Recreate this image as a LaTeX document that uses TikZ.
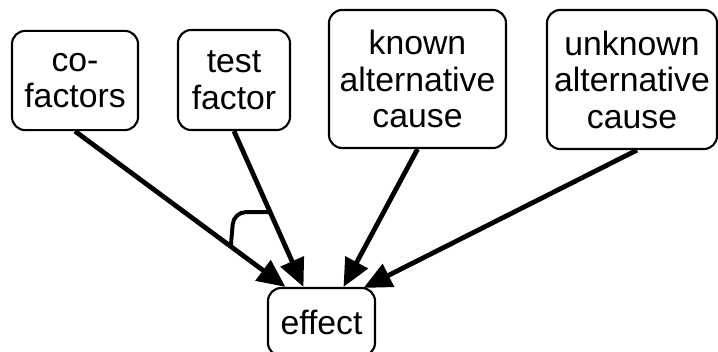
\documentclass[tikz,border=0pt]{standalone}
\usepackage{fontspec}
\setmainfont{Liberation Sans}
\usetikzlibrary{calc,arrows.meta}

\begin{document}
\begin{tikzpicture}[x=0.025cm,y=-0.025cm,
    box/.style={draw,line width=1.5pt,rounded corners=0.33cm,align=center,inner sep=0pt,
      font=\fontsize{24pt}{26pt}\selectfont},
    link/.style={line width=3.4pt,-{Triangle[length=0.7cm,width=0.62cm]}}]
      \useasboundingbox (0,0) rectangle (718,351);
      % causes and effect
      \node[box,minimum width=3.15cm,minimum height=2.48cm] (cof) at (75,80.5) {co-\\factors};
      \node[box,minimum width=2.8cm,minimum height=2.5cm] (test) at (234,80) {test\\factor};
      \node[box,minimum width=4.425cm,minimum height=3.45cm] (known) at (417.5,79) {known\\alternative\\cause};
      \node[box,minimum width=4.25cm,minimum height=3.475cm] (unknown) at (632,79.5) {unknown\\alternative\\cause};
      \node[box,minimum width=2.675cm,minimum height=1.7cm] (effect) at (321.5,322) {effect};

      % arrow ends on top of effect
      \coordinate (e1) at ($(effect.north)+(-36,0)$);
      \coordinate (e2) at ($(effect.north)+(-18,0)$);
      \coordinate (e3) at ($(effect.north)+(22,0)$);
      \coordinate (e4) at ($(effect.north)+(42,1)$);
      \draw[link] (cof.south) -- (e1);
      \draw[link] (test.south) -- (e2);
      \draw[link] (known.south) -- (e3);
      \draw[link] ($(unknown.south)+(5,0)$) -- (e4);

      % joint arc
      \coordinate (p1) at ($(cof.south)!0.74!(e1)$);
      \coordinate (p2) at ($(test.south)!0.52!(e2)$);
      \draw[line width=2.8pt,rounded corners=0.3cm] (p1) -- ($(p1|-p2)+(3,0)$) -- (p2);
    \end{tikzpicture}
\end{document}
